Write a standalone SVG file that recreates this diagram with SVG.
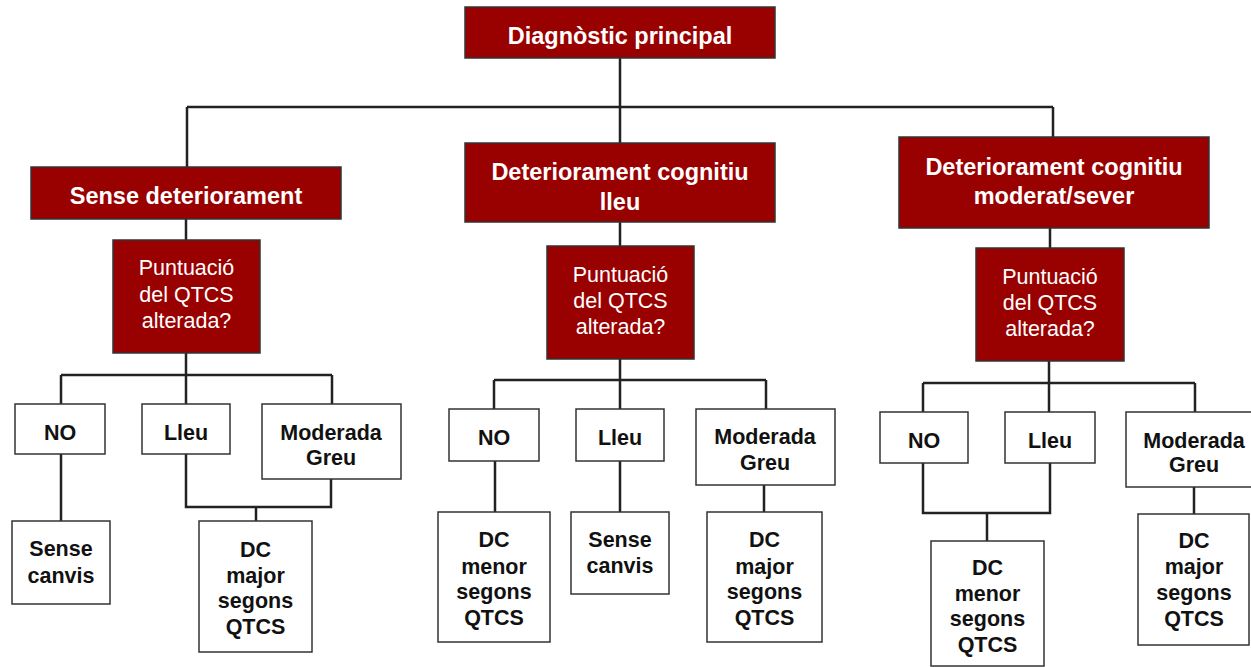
<svg xmlns="http://www.w3.org/2000/svg" width="1251" height="667" viewBox="0 0 1251 667">
<style>
.red{fill:#990000;stroke:#333;stroke-width:1.5}
.wb{fill:#fff;stroke:#333;stroke-width:1.5}
.t{font-family:"Liberation Sans",Arial,sans-serif;font-weight:bold;font-size:23.5px;fill:#fff;text-anchor:middle}
.q{font-family:"Liberation Sans",Arial,sans-serif;font-size:21.5px;fill:#fff;text-anchor:middle}
.l{font-family:"Liberation Sans",Arial,sans-serif;font-weight:bold;font-size:21.5px;fill:#111;text-anchor:middle}
.c{fill:none;stroke:#222;stroke-width:2.5}
</style>
<rect width="1251" height="667" fill="#fff"/>
<g id="connectors">
<path class="c" d="M620 58V143M187 107H1053M187 107V167M1053 107V137"/>
<path class="c" d="M186 219V240M186 353V375M61 375H332M61 375V404M186 375V404M332 375V404"/>
<path class="c" d="M61 454V521M186 454V507H331V479M256 507V521"/>
<path class="c" d="M620 222V246M620 359V380M494 380H766M494 380V409M620 380V409M766 380V409"/>
<path class="c" d="M495 461V512M620 461V512M764 485V512"/>
<path class="c" d="M1050 228V248M1049 361V383M923 383H1195M923 383V412M1049 383V412M1195 383V412"/>
<path class="c" d="M923 463V513H1050V463M987 513V541M1194 487V514"/>
</g>
<g id="n-diag"><rect class="red" x="465" y="7" width="310" height="51"/><text class="t" x="620" y="44">Diagnòstic principal</text></g>
<g id="n-sense"><rect class="red" x="31" y="167" width="310" height="52"/><text class="t" x="186" y="204">Sense deteriorament</text></g>
<g id="n-lleu"><rect class="red" x="465" y="143" width="310" height="79"/><text class="t" x="620" y="180">Deteriorament cognitiu</text><text class="t" x="620" y="210">lleu</text></g>
<g id="n-mod"><rect class="red" x="899" y="137" width="310" height="91"/><text class="t" x="1054" y="175">Deteriorament cognitiu</text><text class="t" x="1054" y="204">moderat/sever</text></g>
<g id="q1"><rect class="red" x="113" y="240" width="147" height="113"/><text class="q" x="186.5" y="275">Puntuació</text><text class="q" x="186.5" y="302">del QTCS</text><text class="q" x="186.5" y="328">alterada?</text></g>
<g id="q2"><rect class="red" x="547" y="246" width="147" height="113"/><text class="q" x="620.5" y="282">Puntuació</text><text class="q" x="620.5" y="308">del QTCS</text><text class="q" x="620.5" y="334">alterada?</text></g>
<g id="q3"><rect class="red" x="976" y="248" width="148" height="113"/><text class="q" x="1050" y="284">Puntuació</text><text class="q" x="1050" y="310">del QTCS</text><text class="q" x="1050" y="336">alterada?</text></g>
<g id="a1-no"><rect class="wb" x="15" y="404" width="90" height="50"/><text class="l" x="60" y="440">NO</text></g>
<g id="a1-lleu"><rect class="wb" x="142" y="404" width="88" height="50"/><text class="l" x="186" y="440">Lleu</text></g>
<g id="a1-mod"><rect class="wb" x="262" y="404" width="139" height="75"/><text class="l" x="331" y="440">Moderada</text><text class="l" x="331" y="465">Greu</text></g>
<g id="r1-sense"><rect class="wb" x="12" y="521" width="98" height="83"/><text class="l" x="61" y="556">Sense</text><text class="l" x="61" y="583">canvis</text></g>
<g id="r1-major"><rect class="wb" x="199" y="521" width="113" height="131"/><text class="l" x="255.5" y="557">DC</text><text class="l" x="255.5" y="583">major</text><text class="l" x="255.5" y="608">segons</text><text class="l" x="255.5" y="634">QTCS</text></g>
<g id="a2-no"><rect class="wb" x="449" y="409" width="90" height="52"/><text class="l" x="494" y="445">NO</text></g>
<g id="a2-lleu"><rect class="wb" x="576" y="409" width="88" height="52"/><text class="l" x="620" y="445">Lleu</text></g>
<g id="a2-mod"><rect class="wb" x="696" y="409" width="139" height="76"/><text class="l" x="765" y="444">Moderada</text><text class="l" x="765" y="470">Greu</text></g>
<g id="r2-menor"><rect class="wb" x="438" y="512" width="112" height="130"/><text class="l" x="494" y="547">DC</text><text class="l" x="494" y="574">menor</text><text class="l" x="494" y="599">segons</text><text class="l" x="494" y="625">QTCS</text></g>
<g id="r2-sense"><rect class="wb" x="571" y="512" width="98" height="82"/><text class="l" x="620" y="547">Sense</text><text class="l" x="620" y="573">canvis</text></g>
<g id="r2-major"><rect class="wb" x="707" y="512" width="115" height="130"/><text class="l" x="764.5" y="547">DC</text><text class="l" x="764.5" y="574">major</text><text class="l" x="764.5" y="599">segons</text><text class="l" x="764.5" y="625">QTCS</text></g>
<g id="a3-no"><rect class="wb" x="880" y="412" width="88" height="51"/><text class="l" x="924" y="448">NO</text></g>
<g id="a3-lleu"><rect class="wb" x="1005" y="412" width="90" height="51"/><text class="l" x="1050" y="448">Lleu</text></g>
<g id="a3-mod"><rect class="wb" x="1126" y="412" width="139" height="75"/><text class="l" x="1194" y="448">Moderada</text><text class="l" x="1194" y="472">Greu</text></g>
<g id="r3-menor"><rect class="wb" x="931" y="541" width="113" height="125"/><text class="l" x="987.5" y="575">DC</text><text class="l" x="987.5" y="601">menor</text><text class="l" x="987.5" y="626">segons</text><text class="l" x="987.5" y="652">QTCS</text></g>
<g id="r3-major"><rect class="wb" x="1138" y="514" width="111" height="131"/><text class="l" x="1194" y="548">DC</text><text class="l" x="1194" y="574">major</text><text class="l" x="1194" y="600">segons</text><text class="l" x="1194" y="626">QTCS</text></g>
</svg>
